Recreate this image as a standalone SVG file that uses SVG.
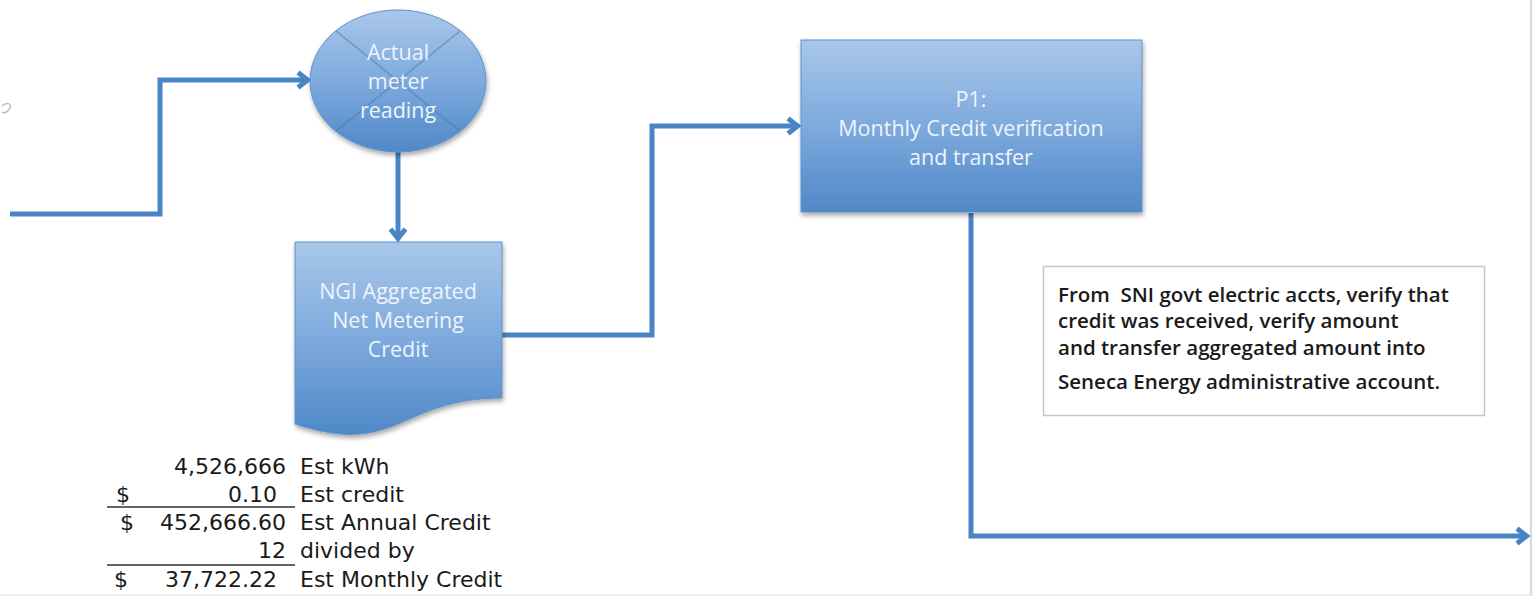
<svg xmlns="http://www.w3.org/2000/svg" width="1533" height="596" viewBox="0 0 1533 596">
<style>
.conn{fill:none;stroke:#4a84c4;stroke-width:5;stroke-linejoin:miter}
.shape-text{font-family:"Open Sans","Noto Sans",sans-serif;font-size:21.5px;fill:#eef4fb;text-anchor:middle}
.note{font-family:"Open Sans","Noto Sans",sans-serif;font-size:20.5px;font-weight:600;fill:#1a1a1a}
.tbl{font-family:"DejaVu Sans",Verdana,sans-serif;font-size:22px;fill:#1a1a1a}
.num{text-anchor:end}
</style>
<defs>
<linearGradient id="blue" x1="0" y1="0" x2="0" y2="1">
<stop offset="0" stop-color="#a9c7ea"/>
<stop offset="0.5" stop-color="#7eaadd"/>
<stop offset="1" stop-color="#4f88c8"/>
</linearGradient>
<filter id="sh" x="-10%" y="-10%" width="125%" height="130%">
<feGaussianBlur in="SourceAlpha" stdDeviation="2.5"/>
<feOffset dx="1" dy="3" result="b"/>
<feComponentTransfer><feFuncA type="linear" slope="0.35"/></feComponentTransfer>
<feMerge><feMergeNode/><feMergeNode in="SourceGraphic"/></feMerge>
</filter>
<marker id="arr" markerUnits="userSpaceOnUse" markerWidth="18" markerHeight="20" viewBox="0 0 18 20" refX="15" refY="10" orient="auto">
<path d="M5,2.5 L14.5,10 L5,17.5" fill="none" stroke="#4a84c4" stroke-width="5" stroke-linejoin="miter"/>
</marker>
</defs>
<rect width="1533" height="596" fill="#ffffff"/>
<line x1="1531" y1="0" x2="1531" y2="596" stroke="#d5d9de" stroke-width="2"/>
<line x1="0" y1="595" x2="1533" y2="595" stroke="#e4e6e9" stroke-width="1.5"/>
<path d="M2,106 C6,102 12,103 10,108 C8,112 4,114 2,112" fill="none" stroke="#b8bcc2" stroke-width="1.5"/>

<g id="connectors">
<path class="conn" d="M10,214 H160 V80 H308" marker-end="url(#arr)"/>
<path class="conn" d="M398,152 V239" marker-end="url(#arr)"/>
<path class="conn" d="M502,335 H652 V126 H798" marker-end="url(#arr)"/>
<path class="conn" d="M971,213 V536 H1527" marker-end="url(#arr)"/>
</g>

<g id="node-actual-meter">
<ellipse cx="398" cy="81" rx="88" ry="71" fill="url(#blue)" stroke="#5d92cf" stroke-width="1" filter="url(#sh)"/>
<line x1="336" y1="31" x2="460" y2="131" stroke="#4676ad" stroke-opacity="0.55" stroke-width="1.5"/>
<line x1="460" y1="31" x2="336" y2="131" stroke="#4676ad" stroke-opacity="0.55" stroke-width="1.5"/>
<text class="shape-text" x="398" y="60">Actual</text>
<text class="shape-text" x="398" y="89">meter</text>
<text class="shape-text" x="398" y="118">reading</text>
</g>

<g id="node-ngi-credit">
<path d="M295,242 H502 V398 C398.5,398 398.5,458 295,424 Z" fill="url(#blue)" stroke="#5d92cf" stroke-width="1" filter="url(#sh)"/>
<text class="shape-text" x="398" y="299">NGI Aggregated</text>
<text class="shape-text" x="398" y="328">Net Metering</text>
<text class="shape-text" x="398" y="357">Credit</text>
</g>

<g id="node-p1">
<rect x="801" y="40" width="341" height="172" fill="url(#blue)" stroke="#5d92cf" stroke-width="1" filter="url(#sh)"/>
<text class="shape-text" x="971" y="107">P1:</text>
<text class="shape-text" x="971" y="136">Monthly Credit verification</text>
<text class="shape-text" x="971" y="165">and transfer</text>
</g>

<g id="node-note">
<rect x="1043.5" y="266.5" width="441" height="149" fill="#ffffff" stroke="#c4c6c9" stroke-width="1.5"/>
<text class="note" x="1058" y="302" xml:space="preserve">From  SNI govt electric accts, verify that</text>
<text class="note" x="1058" y="328">credit was received, verify amount</text>
<text class="note" x="1058" y="355">and transfer aggregated amount into</text>
<text class="note" x="1058" y="389">Seneca Energy administrative account.</text>
</g>

<g id="node-estimate-table">
<text class="tbl num" x="286" y="474">4,526,666</text>
<text class="tbl" x="300" y="474">Est kWh</text>
<text class="tbl" x="116" y="502">$</text>
<text class="tbl num" x="277" y="502">0.10</text>
<text class="tbl" x="300" y="502">Est credit</text>
<line x1="107" y1="507" x2="295" y2="507" stroke="#333" stroke-width="1.5"/>
<text class="tbl" x="120" y="530">$</text>
<text class="tbl num" x="286" y="530">452,666.60</text>
<text class="tbl" x="300" y="530">Est Annual Credit</text>
<text class="tbl num" x="286" y="558">12</text>
<text class="tbl" x="300" y="558">divided by</text>
<line x1="107" y1="565" x2="295" y2="565" stroke="#333" stroke-width="1.5"/>
<text class="tbl" x="114" y="587">$</text>
<text class="tbl num" x="277" y="587">37,722.22</text>
<text class="tbl" x="300" y="587">Est Monthly Credit</text>
</g>
</svg>
